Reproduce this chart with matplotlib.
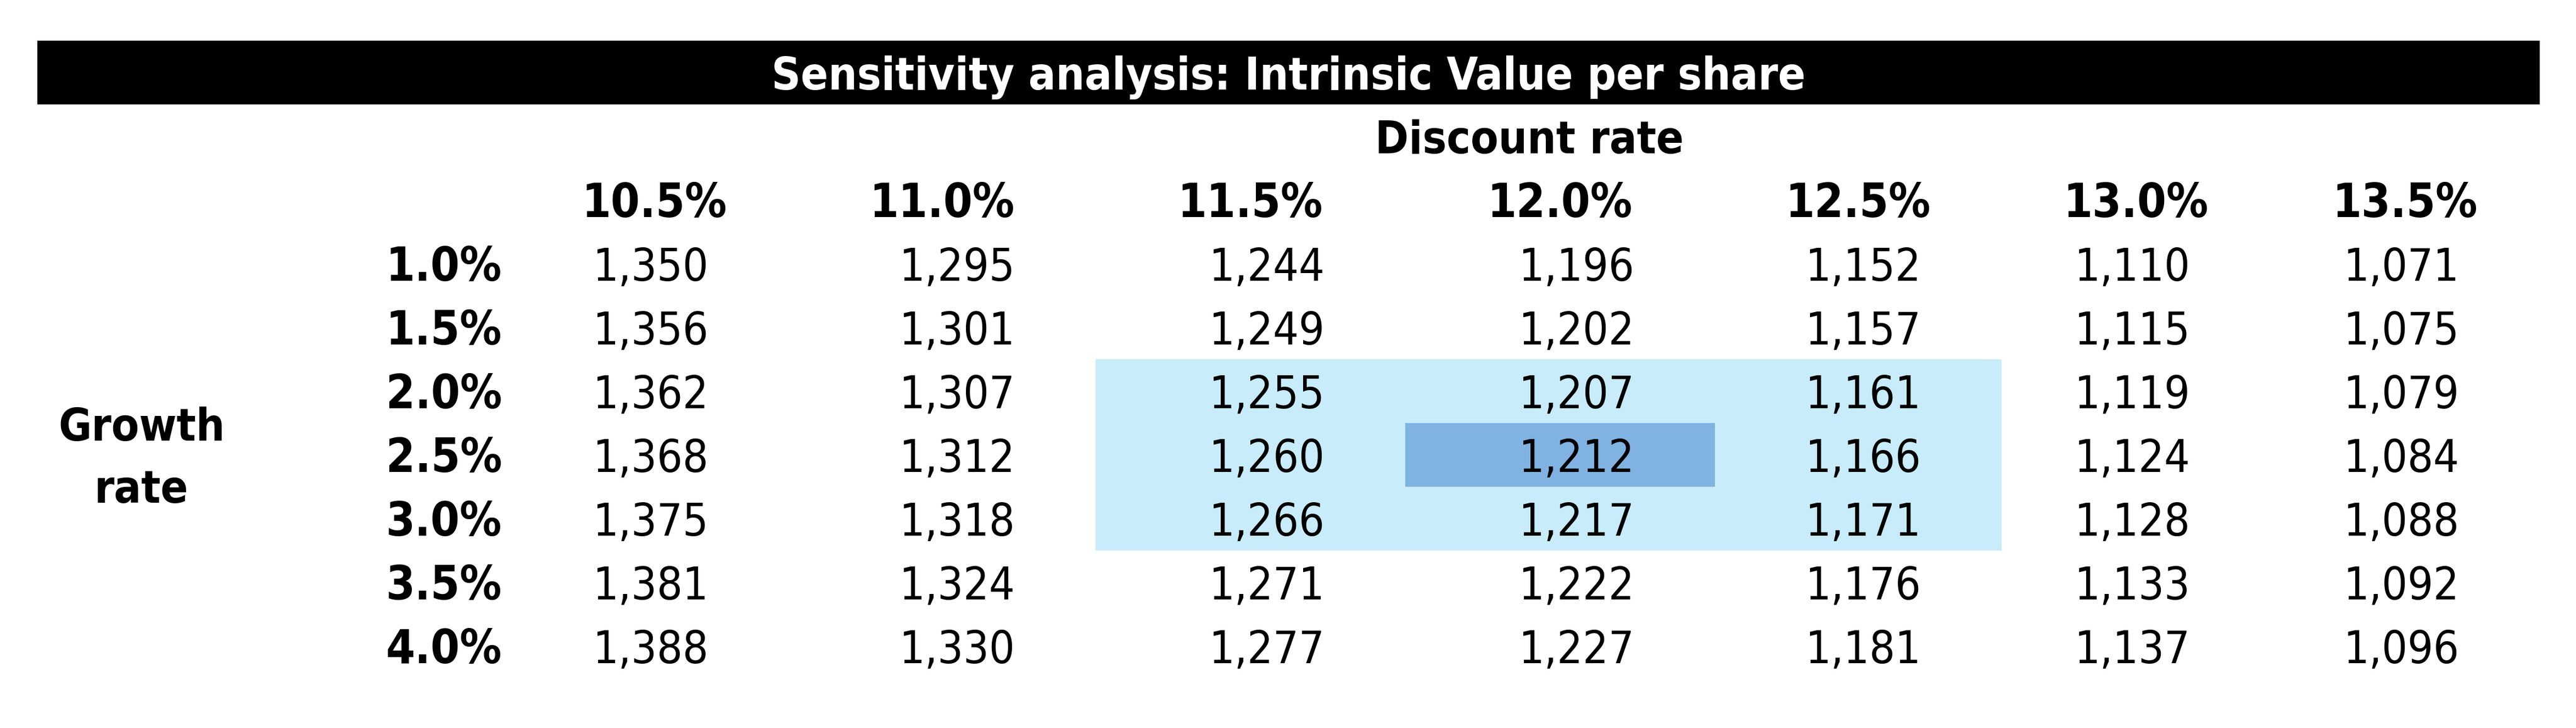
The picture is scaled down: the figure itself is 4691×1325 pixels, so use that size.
import matplotlib
matplotlib.use("Agg")
import matplotlib.pyplot as plt
from matplotlib.patches import Rectangle

# Sensitivity table: intrinsic value per share
title = "Sensitivity analysis: Intrinsic Value per share"
col_title = "Discount rate"
row_title = "Growth rate"
discount_rates = ["10.5%", "11.0%", "11.5%", "12.0%", "12.5%", "13.0%", "13.5%"]
growth_rates = ["1.0%", "1.5%", "2.0%", "2.5%", "3.0%", "3.5%", "4.0%"]
values = [
    [1350, 1295, 1244, 1196, 1152, 1110, 1071],
    [1356, 1301, 1249, 1202, 1157, 1115, 1075],
    [1362, 1307, 1255, 1207, 1161, 1119, 1079],
    [1368, 1312, 1260, 1212, 1166, 1124, 1084],
    [1375, 1318, 1266, 1217, 1171, 1128, 1088],
    [1381, 1324, 1271, 1222, 1176, 1133, 1092],
    [1388, 1330, 1277, 1227, 1181, 1137, 1096],
]
base_row, base_col = 3, 3  # 2.5% growth, 12.0% discount

# layout (pixels)
W, H = 4691, 1325
col_edges = [68, 448, 946, 1437, 1995, 2559, 3123, 3645, 4135, 4625]
top = 74
row_h = 116
pad = 146
light = "#c9ecfa"
dark = "#80b3e2"
fs_num = 59
fs_lab = 61
fs_title = 59

plt.rcParams["font.family"] = ["DejaVu Sans"]
plt.rcParams["font.stretch"] = "condensed"

fig = plt.figure(figsize=(W / 100, H / 100), dpi=100)
ax = fig.add_axes([0, 0, 1, 1])
ax.set_xlim(0, W)
ax.set_ylim(H, 0)
ax.axis("off")

def row_top(r):
    return top + r * row_h

def baseline(r):
    return row_top(r) + 89

# title bar
ax.add_patch(Rectangle((col_edges[0], row_top(0)), col_edges[-1] - col_edges[0], row_h,
                       facecolor="black", edgecolor="none"))
ax.text((col_edges[0] + col_edges[-1]) / 2, baseline(0), title, color="white",
        fontsize=fs_title, fontweight="bold", ha="center", va="baseline")

vc = col_edges[2:]  # value column edges
ax.text((vc[0] + vc[-1]) / 2, baseline(1), col_title, fontsize=fs_title, fontweight="bold",
        ha="center", va="baseline")

# highlight around base case
ax.add_patch(Rectangle((vc[base_col - 1], row_top(3 + base_row - 1)),
                       vc[base_col + 2] - vc[base_col - 1], 3 * row_h,
                       facecolor=light, edgecolor="none"))
ax.add_patch(Rectangle((vc[base_col], row_top(3 + base_row)),
                       vc[base_col + 1] - vc[base_col], row_h,
                       facecolor=dark, edgecolor="none"))

for j, d in enumerate(discount_rates):
    ax.text((vc[j] + vc[j + 1]) / 2, baseline(2), d, fontsize=fs_lab, fontweight="bold",
            ha="center", va="baseline")

for i, g in enumerate(growth_rates):
    ax.text(col_edges[2] - 32, baseline(3 + i), g, fontsize=fs_lab, fontweight="bold",
            ha="right", va="baseline")
    for j, v in enumerate(values[i]):
        ax.text(vc[j + 1] - pad, baseline(3 + i), f"{v:,}", fontsize=fs_num,
                ha="right", va="baseline")

ax.text((col_edges[0] + col_edges[1]) / 2, row_top(3 + base_row) + row_h / 2 + 8,
        row_title.replace(" ", "\n"), fontsize=fs_title, fontweight="bold",
        ha="center", va="center", linespacing=1.55)

fig.savefig("out.png", dpi=100)
